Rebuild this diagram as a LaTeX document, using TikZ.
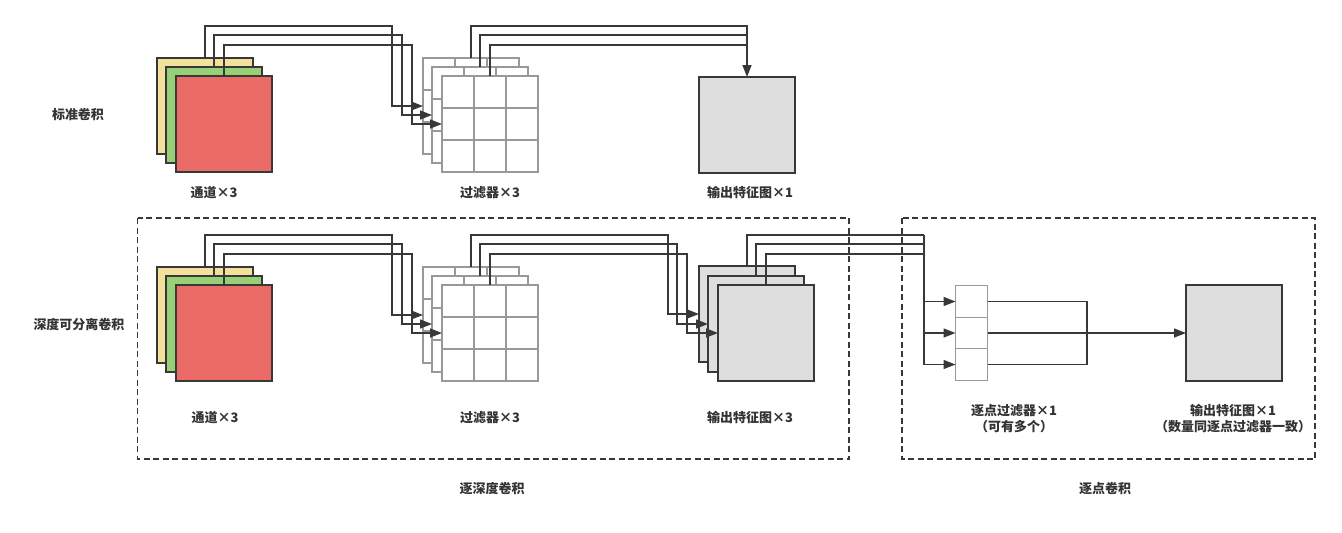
\documentclass[tikz,border=0pt]{standalone}
\usepackage{fontspec}
\setmainfont{Noto Sans CJK SC}
\usetikzlibrary{arrows.meta,calc}
\definecolor{cyel}{HTML}{F3E09B}
\definecolor{cgrn}{HTML}{97D077}
\definecolor{cred}{HTML}{EA6B66}
\definecolor{cgry}{HTML}{DEDEDE}
\definecolor{cline}{HTML}{383838}
\definecolor{cgrid}{HTML}{999999}
\definecolor{ctext}{HTML}{333333}
\tikzset{
  sq/.style={draw=cline, line width=1.8pt, minimum width=96pt, minimum height=96pt, inner sep=0pt, outer sep=0pt},
  fgrid/.style={draw=cgrid, fill=white, line width=1.2pt, minimum width=96pt, minimum height=96pt, inner sep=0pt, outer sep=0pt},
  gline/.style={draw=cgrid, line width=1.2pt},
  pcell/.style={draw=cgrid, fill=white, line width=1.2pt, minimum width=32pt, minimum height=31.5pt, inner sep=0pt, outer sep=0pt},
  conn/.style={draw=cline, line width=1.6pt},
  arr/.style={conn, -{Triangle[length=12pt,width=9pt]}},
  lbl/.style={text=ctext, font=\fontsize{13}{16}\selectfont\bfseries, inner sep=0pt, align=center},
  dbox/.style={draw=cline, line width=1.4pt, dash pattern=on 6pt off 3.5pt},
}
\newcommand\filtergrid[2]{%
  \node[fgrid] (#1) at (#2) {};
  \foreach \k in {1,2} {
    \draw[gline] ($(#1.north west)!\k/3!(#1.north east)$) -- ($(#1.south west)!\k/3!(#1.south east)$);
    \draw[gline] ($(#1.north west)!\k/3!(#1.south west)$) -- ($(#1.north east)!\k/3!(#1.south east)$);
  }}
\begin{document}
\begin{tikzpicture}[x=1pt,y=-1pt]
\useasboundingbox (0,0) rectangle (1342,533);

% ---------------- standard convolution ----------------
\node[lbl] (tstd) at (78,115) {标准卷积};
\node[sq, fill=cyel] (ay) at (205,106) {};
\node[sq, fill=cgrn] (ag) at (214,115) {};
\node[sq, fill=cred] (ar) at (224,124) {};
\filtergrid{af1}{471,106}
\filtergrid{af2}{480,115}
\filtergrid{af3}{490,124}
\node[sq, fill=cgry] (aout) at (747,125) {};

\draw[arr] (ay.north) |- (392,26) |- (af1.west);
\draw[arr] (ag.north) |- (402,35) |- (af2.west);
\draw[arr] (ar.north) |- (412,45) |- (af3.west);
\draw[conn] (af2.north) |- (aout.north |- 0,35);
\draw[conn] (af3.north) |- (aout.north |- 0,45);
\draw[arr] (af1.north) |- (aout.north |- 0,26) -- (aout.north);

\node[lbl] (la1) at (214,193) {通道×3};
\node[lbl] (la2) at (490,193) {过滤器×3};
\node[lbl] (la3) at (750,193) {输出特征图×1};

% ---------------- depthwise separable ----------------
\node[lbl] (tsep) at (79,325) {深度可分离卷积};
\node[sq, fill=cyel] (by) at (205,315) {};
\node[sq, fill=cgrn] (bg) at (214,324) {};
\node[sq, fill=cred] (br) at (224,333) {};
\filtergrid{bf1}{471,315}
\filtergrid{bf2}{480,324}
\filtergrid{bf3}{490,333}
\node[sq, fill=cgry] (bo1) at (747,314) {};
\node[sq, fill=cgry] (bo2) at (756,324) {};
\node[sq, fill=cgry] (bo3) at (766,333) {};

\draw[arr] (by.north) |- (392,235) |- (bf1.west);
\draw[arr] (bg.north) |- (402,244) |- (bf2.west);
\draw[arr] (br.north) |- (412,254) |- (bf3.west);
\draw[arr] (bf1.north) |- (668,235) |- (bo1.west);
\draw[arr] (bf2.north) |- (677,244) |- (bo2.west);
\draw[arr] (bf3.north) |- (687,254) |- (bo3.west);

% pointwise
\node[pcell] (p1) at (971.5,301.5) {};
\node[pcell] (p2) at (971.5,333) {};
\node[pcell] (p3) at (971.5,364.5) {};
\node[sq, fill=cgry] (pout) at (1234,333) {};
\coordinate (pj) at (924,235);
\draw[conn] (bo1.north) |- (pj);
\draw[conn] (bo2.north) |- (pj |- 0,244);
\draw[conn] (bo3.north) |- (pj |- 0,254);
\draw[arr] (pj) |- (p1.west);
\draw[arr] (pj) |- (p2.west);
\draw[arr] (pj) |- (p3.west);
\coordinate (pm) at (1087,333);
\draw[conn] (p1.east) -| (pm);
\draw[conn] (p3.east) -| (pm);
\draw[arr] (p2.east) -- (pout.west);

\node[lbl] (lb1) at (215,418) {通道×3};
\node[lbl] (lb2) at (490,418) {过滤器×3};
\node[lbl] (lb3) at (750,418) {输出特征图×3};
\node[lbl] (lb4) at (1014,410.5) {逐点过滤器×1};
\node[lbl] (lb5) at (1014,426.5) {（可有多个）};
\node[lbl] (lb6) at (1233,410.5) {输出特征图×1};
\node[lbl] (lb7) at (1233,426.5) {（数量同逐点过滤器一致）};

% dashed groups
\draw[dbox] (137.5,218) rectangle (849,459);
\draw[dbox] (902,218) rectangle (1315,459);
\node[lbl] (gdw) at (492,489) {逐深度卷积};
\node[lbl] (gpw) at (1105,489) {逐点卷积};
\end{tikzpicture}
\end{document}
